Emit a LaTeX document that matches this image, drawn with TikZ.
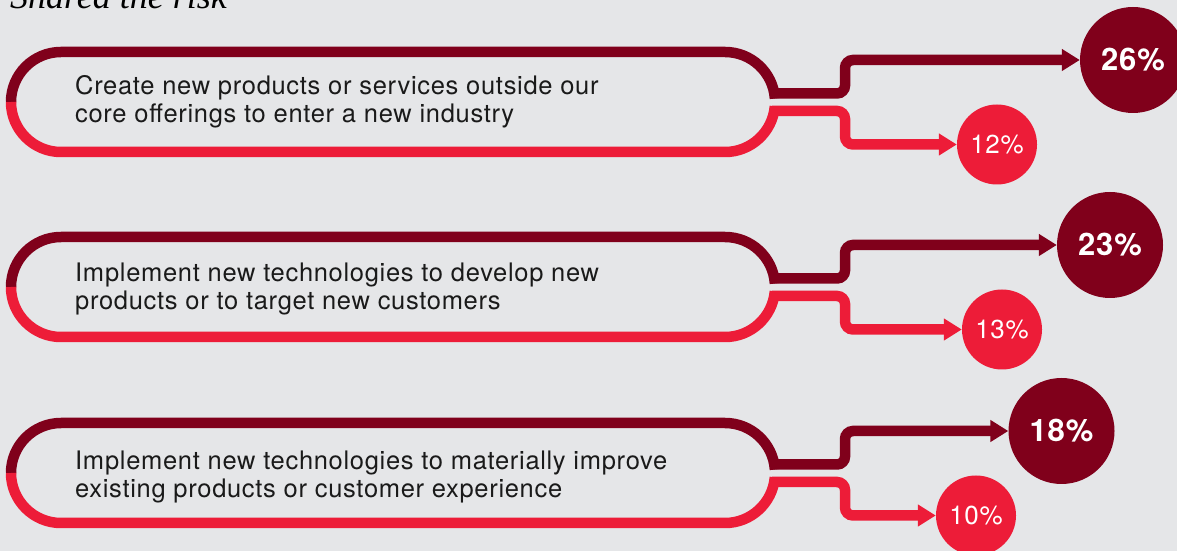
\documentclass[tikz,border=0pt]{standalone}
\usepackage{fontspec}
\setmainfont{TeX Gyre Heros}[LetterSpace=2.7]
\newfontfamily\titlefont{Liberation Serif}
\usetikzlibrary{arrows.meta}
\definecolor{bgc}{RGB}{229,230,232}
\definecolor{darkred}{RGB}{128,0,27}
\definecolor{brightred}{RGB}{237,28,56}
\definecolor{txt}{RGB}{26,26,26}
\tikzset{
  ringdark/.style={draw=darkred,line width=10.5pt},
  ringred/.style={draw=brightred,line width=10.5pt},
  linkdark/.style={draw=darkred,line width=10.5pt,rounded corners=8pt,-{Triangle[length=18pt,width=21pt]}},
  linkred/.style={draw=brightred,line width=10.5pt,rounded corners=8pt,-{Triangle[length=18pt,width=21pt]}},
  bigc/.style={circle,fill=darkred,minimum size=106pt,inner sep=0pt,text=white,font=\bfseries\fontsize{31}{31}\selectfont},
  smallc/.style={circle,fill=brightred,minimum size=80pt,inner sep=0pt,text=white,font=\fontsize{26}{26}\selectfont},
  label/.style={anchor=base west,align=left,text=txt,inner sep=0pt,font=\fontsize{25.5}{28}\selectfont},
}
\begin{document}
\begin{tikzpicture}[x=1pt,y=1pt]
\fill[bgc] (0,0) rectangle (1177,551);
\useasboundingbox (0,0) rectangle (1177,551);
\node[anchor=base west,inner sep=0pt,font=\titlefont\itshape\fontsize{36}{36}\selectfont] (title) at (10,542) {Shared the risk};
% row 1
\begin{scope}[shift={(0,449)}]
  \coordinate (la) at (11,0); \coordinate (rca) at (725,0);
  \coordinate (ds) at (772,8.5); \coordinate (rs) at (772,-9);
  \draw[ringdark] (la) arc[start angle=180,end angle=90,radius=50] -- (725,50) arc[start angle=90,end angle=4,radius=50];
  \draw[ringred] (rca) ++(-5:50) arc[start angle=-5,end angle=-90,radius=50] -- (61,-50) arc[start angle=270,end angle=180,radius=50];
  \node[label] (t1) at (75,-21) {Create new products or services outside our\\core offerings to enter a new industry};
  \node[bigc] (b1) at (1133,42) {26\%};
  \node[smallc] (s1) at (997,-42.5) {12\%};
  \draw[linkdark] (ds) -- (845,8.5) -- (845,42) -- (b1.west);
  \draw[linkred] (rs) -- (845,-9) -- (845,-42.5) -- (s1.west);
\end{scope}
% row 2
\begin{scope}[shift={(0,264)}]
  \coordinate (lb) at (11,0); \coordinate (rcb) at (725,0);
  \coordinate (ds2) at (772,8.5); \coordinate (rs2) at (772,-9);
  \draw[ringdark] (lb) arc[start angle=180,end angle=90,radius=50] -- (725,50) arc[start angle=90,end angle=4,radius=50];
  \draw[ringred] (rcb) ++(-5:50) arc[start angle=-5,end angle=-90,radius=50] -- (61,-50) arc[start angle=270,end angle=180,radius=50];
  \node[label] (t2) at (75,-23) {Implement new technologies to develop new\\products or to target new customers};
  \node[bigc] (b2) at (1110,42) {23\%};
  \node[smallc] (s2) at (1002,-42.5) {13\%};
  \draw[linkdark] (ds2) -- (845,8.5) -- (845,42) -- (b2.west);
  \draw[linkred] (rs2) -- (845,-9) -- (845,-42.5) -- (s2.west);
\end{scope}
% row 3
\begin{scope}[shift={(0,78)}]
  \coordinate (lc) at (11,0); \coordinate (rcc) at (725,0);
  \coordinate (ds3) at (772,8.5); \coordinate (rs3) at (772,-9);
  \draw[ringdark] (lc) arc[start angle=180,end angle=90,radius=50] -- (725,50) arc[start angle=90,end angle=4,radius=50];
  \draw[ringred] (rcc) ++(-5:50) arc[start angle=-5,end angle=-90,radius=50] -- (61,-50) arc[start angle=270,end angle=180,radius=50];
  \node[label] (t3) at (75,-25) {Implement new technologies to materially improve\\existing products or customer experience};
  \node[bigc] (b3) at (1061.5,42) {18\%};
  \node[smallc] (s3) at (976,-42.5) {10\%};
  \draw[linkdark] (ds3) -- (845,8.5) -- (845,42) -- (b3.west);
  \draw[linkred] (rs3) -- (845,-9) -- (845,-42.5) -- (s3.west);
\end{scope}
\end{tikzpicture}
\end{document}
